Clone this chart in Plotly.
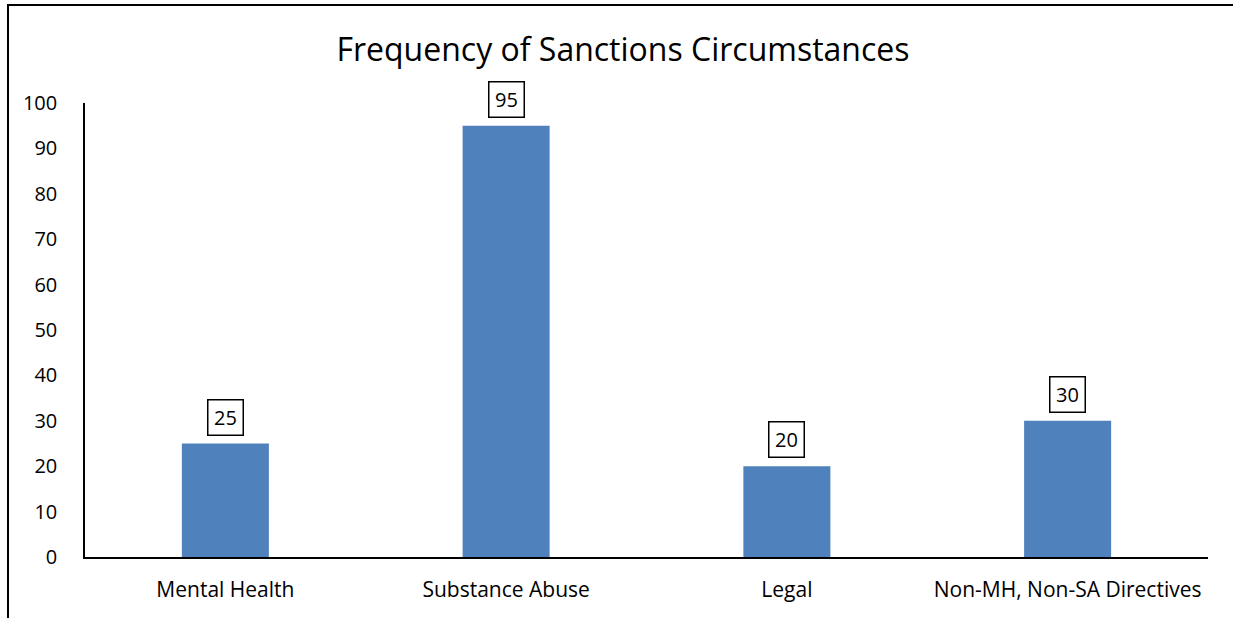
import plotly.graph_objects as go

categories = ["Mental Health", "Substance Abuse", "Legal", "Non-MH, Non-SA Directives"]
values = [25, 95, 20, 30]
y_ticks = [0, 10, 20, 30, 40, 50, 60, 70, 80, 90, 100]

W, H = 1233, 618
L, R, T, B = 85, 25, 103, 61
pw, ph = W - L - R, H - T - B

def px_x(x):
    return (x - L) / pw

def px_y(y):
    return (H - B - y) / ph

FONT = "Open Sans"

fig = go.Figure()
fig.add_trace(go.Bar(
    x=categories, y=values, marker=dict(color="#4F81BD", line=dict(width=0)),
    width=0.31, showlegend=False, hoverinfo="skip",
))

for c, v in zip(categories, values):
    fig.add_annotation(
        x=c, y=v, xref="x", yref="y", text=str(v), showarrow=False,
        yanchor="bottom", yshift=8, width=28, height=28, align="center", valign="middle",
        font=dict(family=FONT, size=20, color="black"),
        bordercolor="black", borderwidth=1.5, borderpad=3, bgcolor="white",
    )

# outer frame (cropped chart border)
fig.add_shape(type="path", xref="paper", yref="paper",
              path=f"M {px_x(8)},{px_y(640)} L {px_x(8)},{px_y(5)} L {px_x(1260)},{px_y(5)}",
              line=dict(color="black", width=2))

fig.update_layout(
    width=W, height=H,
    margin=dict(l=L, r=R, t=T, b=B, pad=0),
    paper_bgcolor="white", plot_bgcolor="white",
    title=dict(text="Frequency of Sanctions Circumstances", x=623 / W, xanchor="center",
               y=1 - 50 / H, yanchor="middle",
               font=dict(family=FONT, size=32, color="black")),
    xaxis=dict(showline=True, linecolor="black", linewidth=1.5, ticks="",
               tickfont=dict(family=FONT, size=21, color="black"),
               showgrid=False, zeroline=False),
    yaxis=dict(range=[0, 100], tickvals=y_ticks, showline=True, linecolor="black",
               linewidth=1.5, ticks="", ticklen=0, showgrid=False, zeroline=False,
               tickfont=dict(family=FONT, size=20, color="black")),
    bargap=0.69,
    font=dict(family=FONT),
)
fig.update_yaxes(ticklabelstandoff=22)
fig.update_xaxes(ticklabelstandoff=13)

fig.write_html("out.html")
